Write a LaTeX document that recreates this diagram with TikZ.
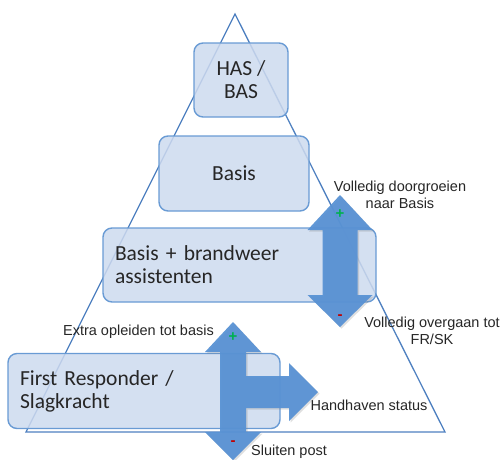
\documentclass[tikz,border=0pt]{standalone}
\usepackage{fontspec}
\setmainfont{Carlito}
\newfontfamily\lblfont{Liberation Sans}
\usepackage{xcolor}
\usepackage{tikz}
\usetikzlibrary{shadows}
\definecolor{lvlfill}{RGB}{205,218,238}
\definecolor{lvldraw}{RGB}{105,155,212}
\definecolor{trline}{RGB}{78,128,192}
\definecolor{arrfill}{RGB}{88,146,212}
\definecolor{plusgreen}{RGB}{0,176,80}
\definecolor{minred}{RGB}{192,0,0}
\tikzstyle{lvl} = [rectangle, rounded corners=9pt, draw=lvldraw, line width=1.4pt, fill=lvlfill, fill opacity=0.85, text opacity=1, text=black!85, font=\fontsize{21.5}{23}\selectfont]
\tikzstyle{lvlleft} = [lvl, align=left, inner xsep=12pt]
\tikzstyle{lbl} = [align=center, inner sep=0pt, text=black!85, font=\lblfont\fontsize{14.5}{17}\selectfont]
\tikzstyle{bigarrow} = [fill=arrfill, fill opacity=0.95, drop shadow={opacity=0.25, shadow xshift=1.5pt, shadow yshift=-1.5pt}]
\tikzstyle{sgn} = [inner sep=0pt, font=\lblfont\bfseries\fontsize{15}{15}\selectfont]

\begin{document}
\begin{tikzpicture}[x=1pt, y=-1pt]
\useasboundingbox (0,0) rectangle (504,459);

% pyramid
\coordinate (top) at (235,14);
\coordinate (bl) at (26,432);
\coordinate (br) at (445,432);
\draw [trline, line width=1.3pt] (top) -- (br) -- (bl) -- cycle;

% levels
\node (has) [lvl, minimum width=94pt, minimum height=74pt, align=center] at (241,80) {HAS /\\BAS};
\node (basis) [lvl, minimum width=150pt, minimum height=75pt] at (234,173.5) {Basis};
\node (bba) [lvlleft, text width=249pt, minimum height=74pt] at (239.5,265) {Basis + brandweer\\assistenten};
\node (frsk) [lvlleft, text width=248pt, minimum height=75pt] at (144,391) {First Responder /\\Slagkracht};

% labels
\node (grow) [lbl] at (400,194.5) {Volledig doorgroeien\\naar Basis};
\node (down) [lbl] at (432,331) {Volledig overgaan tot\\FR/SK};
\node (extra) [lbl] at (138.5,332) {Extra opleiden tot basis};
\node (keep) [lbl] at (369,405) {Handhaven status};
\node (close) [lbl, anchor=base] at (289,455) {Sluiten post};

% arrows
\fill [bigarrow] (340,195) -- (372.5,230) -- (357.5,230) -- (357.5,295) -- (372.5,295)
  -- (340,327) -- (307.5,295) -- (322.5,295) -- (322.5,230) -- (307.5,230) -- cycle;
\fill [bigarrow] (233,322) -- (261,352) -- (246,352) -- (246,376) -- (289,376) -- (289,363)
  -- (318,392) -- (289,421) -- (289,408) -- (246,408) -- (246,432) -- (261,432)
  -- (233,460) -- (205,432) -- (220,432) -- (220,352) -- (205,352) -- cycle;

% signs
\node (p1) [sgn, text=plusgreen] at (340,214) {+};
\node (m1) [sgn, text=minred] at (340,317) {-};
\node (p2) [sgn, text=plusgreen] at (233,337) {+};
\node (m2) [sgn, text=minred] at (233,443) {-};
\end{tikzpicture}
\end{document}
